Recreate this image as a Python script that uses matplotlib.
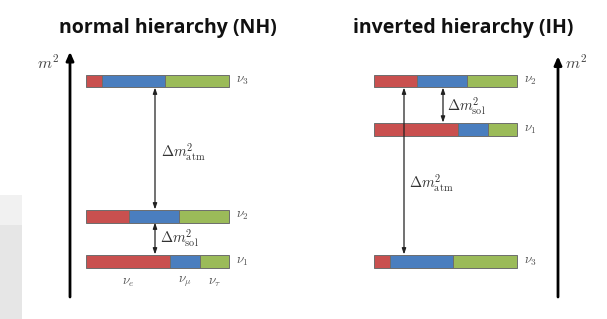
import matplotlib
matplotlib.use('Agg')
import matplotlib.pyplot as plt
from matplotlib.patches import Rectangle
import numpy as np

# flavour content |U_ai|^2 of each mass state (e, mu, tau)
flavours = ['e', r'\mu', r'\tau']
flavour_colors = ['#c9504f', '#4a7ebf', '#9bbb59']
nu1_mix = [0.59, 0.21, 0.20]
nu2_mix = [0.30, 0.35, 0.35]
nu3_mix = [0.11, 0.445, 0.445]

# m^2 levels (arbitrary units)
nh_states = ['1', '2', '3']
nh_levels = [0.0, 1.0, 4.0]
ih_states = ['3', '1', '2']
ih_levels = [0.0, 2.93, 4.0]

mixing = {'1': nu1_mix, '2': nu2_mix, '3': nu3_mix}

plt.rcParams['mathtext.fontset'] = 'cm'

fig = plt.figure(figsize=(6.07, 3.19), dpi=100)

# screenshot artefact on the left edge
fig.patches.append(Rectangle((0, 0), 22 / 607, 94 / 319, transform=fig.transFigure,
                             facecolor='#e6e6e6', edgecolor='none', zorder=0))
fig.patches.append(Rectangle((0, 94 / 319), 22 / 607, 30 / 319, transform=fig.transFigure,
                             facecolor='#f1f1f1', edgecolor='none', zorder=0))

UNIT = 45.0       # pixels per m^2 unit
BASE = 261.0      # pixel row of the lowest level
BAR_H = 13 / UNIT
BAR_W = 143.0


def make_axes():
    ax = fig.add_axes([0, 0, 1, 1])
    ax.set_xlim(0, 607)
    ax.set_ylim(-(319 - BASE) / UNIT, BASE / UNIT)
    ax.axis('off')
    ax.patch.set_alpha(0)
    return ax


def draw_bar(ax, x0, level, state, flavour_labels=False):
    mix = np.array(mixing[state])
    lefts = x0 + BAR_W * np.concatenate([[0], np.cumsum(mix)[:-1]])
    ax.barh(level, BAR_W * mix, left=lefts, height=BAR_H, color=flavour_colors,
            edgecolor='#6d6d6d', linewidth=0.7, zorder=2)
    ax.text(x0 + BAR_W + 7, level, r'$\nu_%s$' % state, fontsize=9.5,
            color='#555555', va='center', ha='left')
    if flavour_labels:
        for left, w, fl in zip(lefts, BAR_W * mix, flavours):
            ax.text(left + w / 2, level - 0.47, r'$\nu_{%s}$' % fl, fontsize=9.5,
                    color='#555555', ha='center', va='center')


def delta_arrow(ax, x, lo, hi):
    ax.annotate('', xy=(x, lo + BAR_H / 2), xytext=(x, hi - BAR_H / 2),
                arrowprops=dict(arrowstyle='<|-|>,head_length=0.35,head_width=0.12',
                                color='#222222', lw=0.9, shrinkA=0, shrinkB=0),
                zorder=3)


def m2_axis(ax, x, top):
    ax.annotate('', xy=(x, top), xytext=(x, -0.8),
                arrowprops=dict(arrowstyle='-|>,head_length=0.5,head_width=0.22',
                                color='black', lw=2.0, shrinkA=0, shrinkB=0))


# ---- normal hierarchy
ax1 = make_axes()
ax1.text(168, 5.18, 'normal hierarchy (NH)', fontsize=14, fontweight='bold',
         family='Open Sans', ha='center', va='center', color='#111111')
m2_axis(ax1, 70, 4.65)
ax1.text(59, 4.42, r'$m^2$', fontsize=11.5, ha='right', va='center', color='#444444')
for st, lv in zip(nh_states, nh_levels):
    draw_bar(ax1, 86, lv, st, flavour_labels=(st == '1'))
delta_arrow(ax1, 155, nh_levels[1], nh_levels[2])
delta_arrow(ax1, 155, nh_levels[0], nh_levels[1])
ax1.text(161, 2.42, r'$\Delta m^2_{\rm atm}$', fontsize=10.5, color='#333333', va='center')
ax1.text(160, 0.51, r'$\Delta m^2_{\rm sol}$', fontsize=10.5, color='#333333', va='center')

# ---- inverted hierarchy
ax2 = make_axes()
ax2.text(463, 5.18, 'inverted hierarchy (IH)', fontsize=14, fontweight='bold',
         family='Open Sans', ha='center', va='center', color='#111111')
m2_axis(ax2, 558, 4.55)
ax2.text(565, 4.42, r'$m^2$', fontsize=11.5, ha='left', va='center', color='#444444')
for st, lv in zip(ih_states, ih_levels):
    draw_bar(ax2, 374, lv, st)
delta_arrow(ax2, 443, ih_levels[1], ih_levels[2])
delta_arrow(ax2, 404, ih_levels[0], ih_levels[2])
ax2.text(409, 1.73, r'$\Delta m^2_{\rm atm}$', fontsize=10.5, color='#333333', va='center')
ax2.text(447, 3.44, r'$\Delta m^2_{\rm sol}$', fontsize=10.5, color='#333333', va='center')

fig.savefig('out.png', dpi=100)
